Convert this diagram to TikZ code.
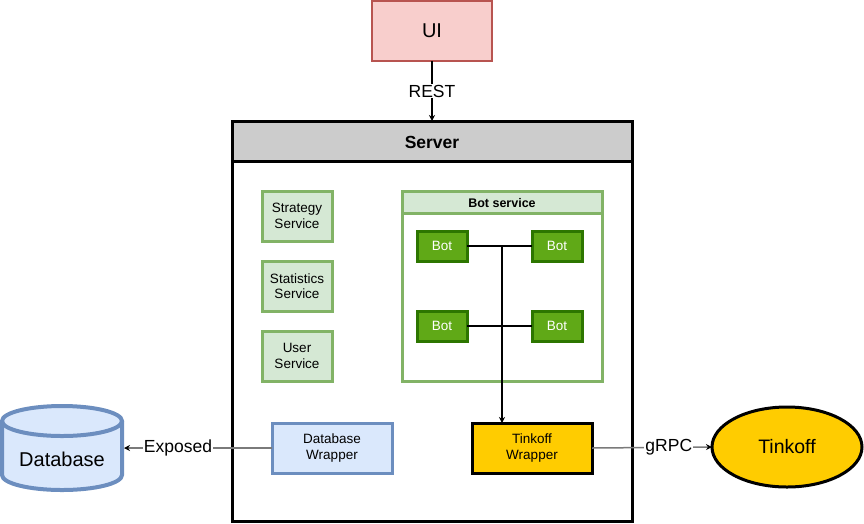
\documentclass[tikz,border=0pt]{standalone}
\usepackage{fontspec}
\setmainfont{Liberation Sans}
\usetikzlibrary{arrows.meta,shapes.geometric,calc}
\definecolor{uifill}{HTML}{F8CECC}
\definecolor{uiline}{HTML}{B85450}
\definecolor{hdrgray}{HTML}{CCCCCC}
\definecolor{gfill}{HTML}{D5E8D4}
\definecolor{gline}{HTML}{82B366}
\definecolor{botfill}{HTML}{60A917}
\definecolor{botline}{HTML}{2D7600}
\definecolor{yel}{HTML}{FFCC00}
\definecolor{bfill}{HTML}{DAE8FC}
\definecolor{bline}{HTML}{6C8EBF}
\definecolor{edgegray}{HTML}{7A7A7A}
\tikzset{
  box/.style={rectangle, draw, outer sep=0pt, inner sep=0pt, align=center},
  svc/.style={box, fill=gfill, draw=gline, line width=3pt, minimum width=70pt, minimum height=50pt,
    font=\fontsize{13.5}{15.5}\selectfont},
  botbox/.style={box, fill=botfill, draw=botline, line width=3pt, minimum width=50pt, minimum height=30pt,
    text=white, font=\fontsize{13.5}{15.5}\selectfont},
  wrapbox/.style={box, line width=3pt, minimum width=120pt, minimum height=50pt,
    font=\fontsize{13.5}{15.5}\selectfont},
  elabel/.style={fill=white, inner sep=1pt, font=\fontsize{17.5}{20}\selectfont},
  arr/.style={-{Stealth[length=6pt,width=6pt]}},
  thin/.style={line width=1.2pt}
}
\begin{document}
\begin{tikzpicture}[x=1pt,y=-1pt]
\useasboundingbox (0,0) rectangle (864,523);
% UI
\node[box, fill=uifill, draw=uiline, line width=2.5pt, minimum width=120pt, minimum height=60pt,
  font=\fontsize{20}{24}\selectfont] (ui) at (432,31) {UI};
% Server
\node[box, line width=3pt, minimum width=400pt, minimum height=400pt] (server) at (432,321) {};
\fill[hdrgray] (server.north west) rectangle ($(server.north east)+(0,40)$);
\draw[line width=3pt] (server.north west) rectangle (server.south east);
\draw[line width=3pt] ($(server.north west)+(0,40)$) -- ($(server.north east)+(0,40)$);
\node[font=\bfseries\fontsize{17.5}{20}\selectfont] (servertitle) at (432,142) {Server};
% services
\node[svc] (strat) at (297,216) {Strategy\\Service};
\node[svc] (stats) at (297,286) {Statistics\\Service};
\node[svc] (user) at (297,356) {User\\Service};
% Bot service
\node[box, draw=gline, line width=3pt, minimum width=200pt, minimum height=190pt] (botsvc) at (502,286) {};
\fill[gfill] (botsvc.north west) rectangle ($(botsvc.north east)+(0,22)$);
\draw[gline, line width=3pt] (botsvc.north west) rectangle (botsvc.south east);
\draw[gline, line width=3pt] ($(botsvc.north west)+(0,22)$) -- ($(botsvc.north east)+(0,22)$);
\node[font=\bfseries\fontsize{12.5}{15}\selectfont] (bottitle) at (502,203) {Bot service};
\node[botbox] (b1) at (442,246) {Bot};
\node[botbox] (b2) at (557,246) {Bot};
\node[botbox] (b3) at (442,326) {Bot};
\node[botbox] (b4) at (557,326) {Bot};
% wrappers
\node[wrapbox, fill=bfill, draw=bline] (dbw) at (332,448) {Database\\Wrapper};
\node[wrapbox, fill=yel, draw=black] (tw) at (532,448) {Tinkoff\\Wrapper};
% Database cylinder
\fill[bfill] (2,421) -- (2,475) arc[start angle=180, end angle=360, x radius=60pt, y radius=15pt]
  -- (122,421) arc[start angle=0, end angle=180, x radius=60pt, y radius=15pt] -- cycle;
\draw[bline, line width=4pt] (2,421) -- (2,475) arc[start angle=180, end angle=360, x radius=60pt, y radius=15pt]
  -- (122,421);
\draw[bline, line width=4pt] (62,421) ellipse[x radius=60pt, y radius=15pt];
\node[minimum width=124pt, minimum height=88pt, inner sep=0pt, outer sep=0pt] (db) at (62,448) {};
\node[font=\fontsize{20}{24}\selectfont] (dbtext) at (62,459) {Database};
% Tinkoff ellipse
\node[ellipse, draw, fill=yel, line width=3pt, minimum width=150pt, minimum height=80pt, inner sep=0pt,
  outer sep=0pt, font=\fontsize{19.5}{24}\selectfont] (tk) at (787,447) {Tinkoff};
% connectors
\draw[thin, arr] (ui.south) -- node[elabel] {REST} (server.north);
\draw[thin] (b1.east) -- (b2.west);
\draw[thin] (b3.east) -- (b4.west);
\coordinate (j) at (b1.east -| botsvc.center);
\draw[thin, arr] (j) -- (j |- tw.north);
\draw[line width=1.5pt, draw=edgegray, -{Stealth[length=6pt,width=6pt,color=black]}] (dbw.west) -- node[elabel, pos=0.635] {Exposed} (db.east);
\draw[line width=1.5pt, draw=edgegray, -{Stealth[length=6pt,width=6pt,color=black]}] (tw.east) -- node[elabel, pos=0.64] {gRPC} (tk.west);
\end{tikzpicture}
\end{document}
